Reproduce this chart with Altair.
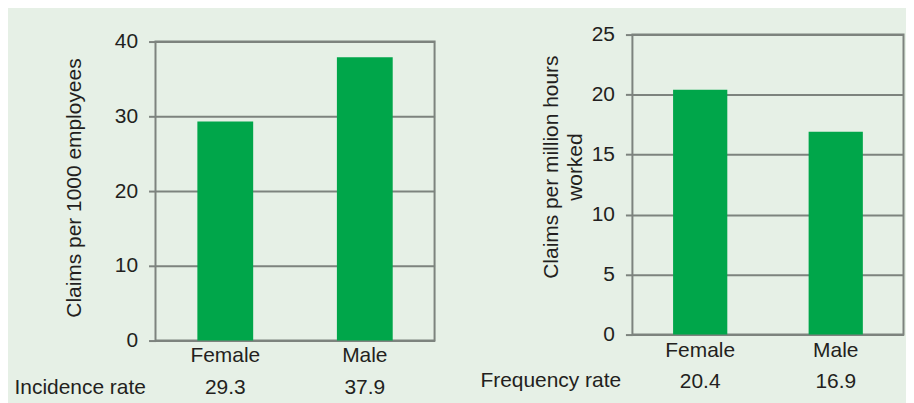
import altair as alt
import pandas as pd

genders = ["Female", "Male"]
incidence = [29.3, 37.9]
frequency = [20.4, 16.9]
left_ticks = [0, 10, 20, 30, 40]
right_ticks = [0, 5, 10, 15, 20, 25]
left_max = 40
right_max = 25
left_title = "Claims per 1000 employees"
right_title = ["Claims per million hours", "worked"]
left_row = "Incidence rate"
right_row = "Frequency rate"

BG = "#e6f0e6"
BAR = "#00a64a"
GRID = "#7d837e"
TEXT = "#231f20"
FONT = "Liberation Sans"
TXT = 21
TICK = 21
W_LEFT = 280
W_RIGHT = 272


def label_expr(values):
    expr = "''"
    for g, v in zip(genders, values):
        expr = f"(datum.label == '{g}' ? '{v:.1f}' : {expr})"
    return f"[datum.label, {expr}]"


def panel(values, ticks, ymax, ytitle, row_title, width, height, tx, ty, rx, ry):
    df = pd.DataFrame({"gender": genders, "value": values})
    return alt.Chart(df).mark_bar(color=BAR, width=alt.RelativeBandSize(0.4)).encode(
        x=alt.X(
            "gender:N",
            sort=genders,
            scale=alt.Scale(paddingInner=0, paddingOuter=0),
            axis=alt.Axis(
                title=row_title,
                labelAngle=0,
                ticks=False,
                tickSize=0,
                domain=False,
                grid=False,
                labelPadding=4.5,
                labelBaseline="top",
                labelLineHeight=32,
                labelFontSize=TXT,
                labelColor=TEXT,
                labelFont=FONT,
                labelExpr=label_expr(values),
                titleX=rx,
                titleY=ry,
                titleAlign="left",
                titleBaseline="middle",
                titleFontSize=TXT,
                titleFontWeight="normal",
                titleColor=TEXT,
                titleFont=FONT,
            ),
        ),
        y=alt.Y(
            "value:Q",
            scale=alt.Scale(domain=[0, ymax], nice=False),
            axis=alt.Axis(
                values=ticks,
                title=ytitle,
                grid=True,
                gridColor=GRID,
                gridWidth=2,
                gridOpacity=1,
                domain=False,
                ticks=True,
                tickSize=7,
                tickColor=GRID,
                tickWidth=2,
                labelPadding=11,
                labelFontSize=TICK,
                labelColor=TEXT,
                labelFont=FONT,
                titleAngle=270,
                titleX=tx,
                titleY=ty,
                titleAlign="center",
                titleBaseline="middle",
                titleFontSize=TXT,
                titleFontWeight="normal",
                titleColor=TEXT,
                titleFont=FONT,
                titleLineHeight=24,
            ),
        ),
    ).properties(width=width, height=height)


left = panel(incidence, left_ticks, left_max, left_title, left_row, W_LEFT, 300, -81, 146.5, -142, 47)
right = panel(frequency, right_ticks, right_max, right_title, right_row, W_RIGHT, 301, -81.5, 132.5, -153, 46)

spacer = alt.Chart(pd.DataFrame({"gender": genders[:1]})).mark_point(opacity=0).encode(
    x=alt.X("gender:N", axis=None)
).properties(width=W_LEFT, height=1, view=alt.ViewBackground(stroke="transparent"))

left_col = alt.vconcat(spacer, left, spacing=6, bounds="flush")

chart = alt.hconcat(left_col, right, spacing=43.5).properties(
    background=BG,
    padding={"left": 5, "top": 14, "right": 1, "bottom": 10},
).configure_view(stroke=GRID, strokeWidth=2)

chart.save("out.html", embed_options={"renderer": "svg", "actions": False})
